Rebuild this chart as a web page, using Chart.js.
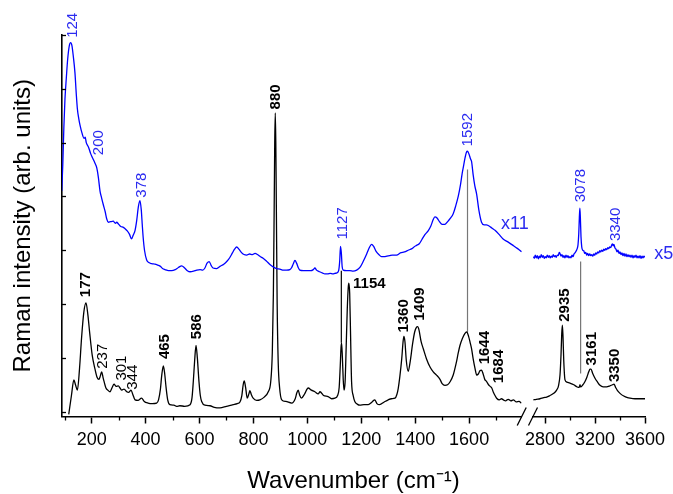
<!DOCTYPE html>
<html lang="en">
<head>
    <meta charset="UTF-8">
    <title>Raman spectrum</title>
    <script src="https://cdn.jsdelivr.net/npm/chart.js"></script>
    <style>
        body {
            margin: 0;
            background: #fff;
        }

        .chart-box {
            width: 673px;
            height: 494px;
        }
    </style>
</head>
<body>
<div class="chart-box">
    <canvas id="ramanChart"></canvas>
</div>
<script>
    // spectra: [wavenumber, intensity] (intensity in y tick units)
    const blackLow = [
        [115, -0.05], [125, 0.30], [134, 0.59], [140, 0.50], [147, 0.40], [155, 0.80], [163, 1.40], [171, 1.85],
        [179, 2.02], [186, 1.80], [193, 1.45], [202, 1.05], [212, 0.80], [220, 0.64], [227, 0.60], [232, 0.66],
        [237, 0.74], [243, 0.62], [253, 0.44], [260, 0.40], [268, 0.37], [276, 0.45], [283, 0.51], [291, 0.47],
        [299, 0.48], [305, 0.44], [312, 0.40], [320, 0.42], [330, 0.37], [338, 0.36], [346, 0.40], [352, 0.33],
        [361, 0.22], [372, 0.21], [385, 0.25], [395, 0.19], [409, 0.16], [425, 0.15], [441, 0.16], [448, 0.22],
        [455, 0.42], [460, 0.68], [466, 0.85], [471, 0.70], [476, 0.45], [482, 0.22], [490, 0.13], [505, 0.12],
        [515, 0.10], [527, 0.11], [545, 0.10], [565, 0.13], [572, 0.25], [577, 0.56], [582, 0.95], [587, 1.23],
        [592, 1.00], [598, 0.56], [603, 0.30], [608, 0.19], [620, 0.12], [639, 0.11], [655, 0.08], [676, 0.07],
        [700, 0.10], [725, 0.13], [740, 0.15], [750, 0.18], [757, 0.30], [762, 0.50], [766, 0.57], [771, 0.45],
        [777, 0.25], [783, 0.33], [787, 0.39], [792, 0.32], [799, 0.25], [812, 0.21], [824, 0.22], [840, 0.27],
        [855, 0.37], [864, 0.55], [870, 1.10], [874, 2.20], [877, 3.80], [879, 5.00], [881, 5.55], [883, 5.00],
        [885, 3.80], [888, 2.00], [892, 0.90], [897, 0.45], [905, 0.22], [920, 0.19], [942, 0.16], [955, 0.24],
        [961, 0.35], [966, 0.40], [972, 0.30], [978, 0.25], [990, 0.33], [1003, 0.44], [1015, 0.40], [1028, 0.37],
        [1040, 0.33], [1047, 0.37], [1060, 0.30], [1077, 0.28], [1090, 0.24], [1102, 0.25], [1112, 0.30], [1118, 0.45],
        [1122, 0.85], [1125, 1.20], [1127, 1.28], [1130, 1.00], [1133, 0.60], [1136, 0.40], [1140, 0.55], [1144, 1.20],
        [1148, 1.90], [1152, 2.33], [1154, 2.39], [1157, 2.20], [1160, 1.50], [1164, 0.56], [1170, 0.30], [1176, 0.19],
        [1185, 0.14], [1195, 0.12], [1210, 0.13], [1226, 0.13], [1240, 0.18], [1250, 0.22], [1258, 0.15], [1268, 0.13],
        [1285, 0.18], [1300, 0.22], [1312, 0.24], [1325, 0.25], [1332, 0.32], [1337, 0.43], [1343, 0.65], [1350, 0.98],
        [1355, 1.30], [1358, 1.40], [1362, 1.30], [1367, 0.95], [1374, 0.75], [1382, 0.95], [1390, 1.25], [1398, 1.48],
        [1405, 1.57], [1409, 1.58], [1414, 1.52], [1422, 1.30], [1430, 1.17], [1442, 0.98], [1455, 0.83], [1467, 0.74],
        [1479, 0.68], [1492, 0.60], [1500, 0.52], [1510, 0.49], [1520, 0.50], [1530, 0.56], [1541, 0.68], [1552, 0.90],
        [1560, 1.10], [1566, 1.23], [1575, 1.36], [1584, 1.45], [1591, 1.48], [1598, 1.40], [1604, 1.28], [1609, 1.17],
        [1615, 0.98], [1622, 0.80], [1628, 0.68], [1634, 0.70], [1640, 0.76], [1646, 0.77], [1652, 0.70], [1658, 0.60],
        [1665, 0.56], [1672, 0.50], [1678, 0.47], [1684, 0.44], [1690, 0.36], [1696, 0.30], [1702, 0.25], [1712, 0.22],
        [1720, 0.24], [1727, 0.22], [1735, 0.20], [1745, 0.23], [1755, 0.20], [1764, 0.22], [1775, 0.18], [1785, 0.19],
        [1794, 0.16]
    ];

    const blueLow = [
        [89, 4.10], [93, 4.60], [97, 5.30], [101, 5.81], [106, 6.20], [111, 6.55], [117, 6.80], [122, 6.86],
        [127, 6.80], [132, 6.60], [138, 6.30], [143, 5.90], [147, 5.63], [152, 5.45], [157, 5.32], [164, 5.18],
        [172, 5.08], [176, 5.10], [180, 5.00], [188, 4.92], [196, 4.80], [204, 4.71], [212, 4.62], [219, 4.53],
        [225, 4.35], [231, 4.10], [237, 3.97], [243, 3.85], [250, 3.72], [256, 3.58], [262, 3.52], [270, 3.53],
        [280, 3.54], [288, 3.50], [293, 3.52], [299, 3.49], [308, 3.44], [316, 3.43], [324, 3.40], [332, 3.36],
        [340, 3.30], [348, 3.21], [354, 3.28], [361, 3.37], [367, 3.55], [373, 3.80], [379, 3.92], [384, 3.75],
        [388, 3.45], [391, 3.24], [396, 3.00], [404, 2.82], [412, 2.77], [423, 2.75], [435, 2.74], [447, 2.72],
        [455, 2.70], [463, 2.66], [472, 2.64], [485, 2.62], [497, 2.62], [510, 2.64], [522, 2.68], [534, 2.71],
        [545, 2.67], [555, 2.62], [565, 2.60], [578, 2.61], [590, 2.63], [602, 2.64], [612, 2.63], [620, 2.67],
        [628, 2.76], [636, 2.79], [643, 2.72], [650, 2.67], [664, 2.66], [676, 2.70], [690, 2.74], [701, 2.79],
        [712, 2.86], [722, 2.95], [730, 3.02], [738, 3.06], [746, 3.02], [755, 2.96], [765, 2.92], [775, 2.91],
        [786, 2.93], [796, 2.92], [806, 2.94], [815, 2.92], [826, 2.88], [836, 2.85], [848, 2.80], [860, 2.74],
        [873, 2.69], [886, 2.66], [898, 2.65], [911, 2.63], [923, 2.63], [935, 2.64], [942, 2.68], [948, 2.75],
        [954, 2.81], [960, 2.76], [966, 2.68], [972, 2.63], [985, 2.62], [1000, 2.62], [1012, 2.62], [1022, 2.64],
        [1028, 2.67], [1034, 2.63], [1045, 2.60], [1055, 2.58], [1065, 2.56], [1075, 2.56], [1085, 2.57], [1095, 2.56],
        [1102, 2.57], [1110, 2.58], [1116, 2.62], [1120, 2.80], [1123, 3.07], [1126, 2.95], [1129, 2.70], [1133, 2.63],
        [1145, 2.62], [1158, 2.62], [1170, 2.61], [1183, 2.63], [1195, 2.68], [1207, 2.79], [1220, 2.93], [1230, 3.05],
        [1238, 3.11], [1246, 3.07], [1255, 2.98], [1265, 2.92], [1275, 2.88], [1285, 2.88], [1295, 2.89], [1305, 2.90],
        [1315, 2.91], [1331, 2.91], [1345, 2.95], [1360, 2.97], [1374, 3.00], [1388, 3.03], [1398, 3.07], [1405, 3.09],
        [1415, 3.12], [1425, 3.20], [1436, 3.29], [1448, 3.36], [1458, 3.45], [1466, 3.56], [1473, 3.62], [1481, 3.60],
        [1490, 3.53], [1500, 3.48], [1510, 3.48], [1520, 3.53], [1530, 3.59], [1541, 3.68], [1550, 3.82], [1560, 4.01],
        [1568, 4.22], [1574, 4.42], [1578, 4.53], [1585, 4.72], [1590, 4.82], [1594, 4.84], [1600, 4.78], [1605, 4.70],
        [1609, 4.65], [1615, 4.40], [1621, 4.20], [1628, 4.04], [1636, 3.75], [1646, 3.52], [1656, 3.47], [1664, 3.47],
        [1671, 3.46], [1680, 3.43], [1688, 3.40], [1696, 3.37], [1710, 3.30], [1726, 3.21], [1745, 3.15], [1763, 3.09],
        [1780, 3.03], [1795, 2.97]
    ];

    const blackHigh = [
        [2707, 0.22], [2730, 0.23], [2760, 0.24], [2790, 0.26], [2813, 0.27], [2840, 0.30], [2870, 0.34], [2893, 0.40],
        [2908, 0.48], [2920, 0.68], [2928, 1.05], [2934, 1.45], [2939, 1.61], [2944, 1.40], [2950, 0.95], [2960, 0.59],
        [2975, 0.55], [3000, 0.53], [3030, 0.50], [3050, 0.47], [3067, 0.45], [3075, 0.46], [3080, 0.50], [3085, 0.46],
        [3100, 0.49], [3120, 0.56], [3135, 0.64], [3150, 0.74], [3160, 0.79], [3168, 0.79], [3180, 0.72], [3200, 0.62],
        [3220, 0.55], [3240, 0.49], [3265, 0.46], [3293, 0.46], [3320, 0.48], [3340, 0.50], [3352, 0.51], [3365, 0.45],
        [3380, 0.39], [3400, 0.34], [3430, 0.29], [3460, 0.26], [3480, 0.25], [3520, 0.24], [3560, 0.24], [3600, 0.24]
    ];

    const blueHigh = [
        [2707, 2.88], [2715, 2.85], [2722, 2.91], [2730, 2.86], [2738, 2.90], [2746, 2.84], [2754, 2.89], [2762, 2.86],
        [2770, 2.92], [2778, 2.87], [2786, 2.90], [2794, 2.85], [2802, 2.88], [2810, 2.86], [2818, 2.91], [2826, 2.87],
        [2834, 2.90], [2842, 2.86], [2850, 2.89], [2858, 2.87], [2866, 2.92], [2874, 2.88], [2882, 2.90], [2890, 2.87],
        [2898, 2.91], [2906, 2.90], [2914, 2.96], [2920, 2.94], [2928, 2.89], [2936, 2.92], [2944, 2.87], [2952, 2.90],
        [2960, 2.86], [2968, 2.91], [2976, 2.87], [2984, 2.90], [2992, 2.86], [3000, 2.88], [3008, 2.86], [3016, 2.91],
        [3024, 2.88], [3032, 2.93], [3040, 2.95], [3048, 2.98], [3056, 3.02], [3064, 3.10], [3070, 3.30], [3075, 3.62],
        [3079, 3.78], [3083, 3.60], [3088, 3.25], [3094, 3.06], [3102, 3.00], [3110, 2.99], [3118, 2.94], [3126, 2.96],
        [3134, 2.91], [3142, 2.94], [3150, 2.90], [3158, 2.93], [3166, 2.90], [3174, 2.92], [3182, 2.89], [3190, 2.93],
        [3198, 2.91], [3206, 2.95], [3214, 2.93], [3222, 2.97], [3230, 2.95], [3238, 2.99], [3246, 2.97], [3254, 3.00],
        [3262, 2.98], [3270, 3.02], [3278, 3.00], [3286, 3.03], [3294, 3.01], [3302, 3.05], [3310, 3.03], [3318, 3.06],
        [3326, 3.05], [3334, 3.10], [3340, 3.12], [3346, 3.08], [3352, 3.11], [3360, 3.04], [3368, 3.02], [3376, 2.97],
        [3384, 3.00], [3392, 2.94], [3400, 2.97], [3408, 2.92], [3416, 2.95], [3424, 2.90], [3432, 2.94], [3440, 2.89],
        [3448, 2.93], [3456, 2.88], [3464, 2.92], [3472, 2.88], [3480, 2.91], [3488, 2.87], [3496, 2.91], [3504, 2.86],
        [3512, 2.90], [3520, 2.87], [3528, 2.91], [3536, 2.86], [3544, 2.89], [3552, 2.86], [3560, 2.90], [3568, 2.85],
        [3576, 2.89], [3584, 2.86], [3592, 2.89], [3600, 2.87]
    ];

    // vertical marker lines: [wavenumber, top, bottom, colour]
    const links = [
        [1126, 2.62, 1.28, '#000000'],
        [1594, 4.50, 1.47, '#777777'],
        [3085, 2.79, 0.71, '#777777']
    ];

    // peak labels: [text, wavenumber, intensity of text centre]
    const blueTags = [
        ['124', 129.7, 7.18], ['200', 227, 5.00], ['378', 385.5, 4.21], ['1127', 1131, 3.50],
        ['1592', 1594, 5.24], ['3078', 3086, 4.20], ['3340', 3366, 3.48]
    ];
    const blackTags = [
        ['880', 883.5, 5.85, true], ['177', 179, 2.36, true], ['237', 243, 1.03, false], ['301', 311, 0.81, false],
        ['344', 351, 0.64, false], ['465', 472, 1.21, true], ['586', 592, 1.58, true], ['1360', 1358, 1.78, true],
        ['1409', 1417, 2.00, true], ['1644', 1658, 1.19, true], ['1684', 1710, 0.84, true], ['2935', 2960, 1.98, true],
        ['3161', 3174, 1.17, true], ['3350', 3360, 0.86, true]
    ];
    const flatTag = ['1154', 1230, 2.38];
    const factorTags = [['x11', 1770, 3.49], ['x5', 3750, 2.93]];

    const lowTicks = [200, 400, 600, 800, 1000, 1200, 1400, 1600];
    const lowMinor = [100, 300, 500, 700, 900, 1100, 1300, 1500, 1700];
    const highTicks = [2800, 3200, 3600];
    const highMinor = [3000, 3400];
    const yTicks = [0, 1, 2, 3, 4, 5, 6, 7];

    const FONT = '"Liberation Sans", Arial, sans-serif';
    const BLUE = '#0000ff';
    const BLUE_TEXT = '#2b2bf0';
    Chart.defaults.font.family = FONT;
    Chart.defaults.color = '#000';

    function series(pts, axis, color) {
        return {
            data: pts.map(p => ({x: p[0], y: p[1]})),
            xAxisID: axis,
            borderColor: color,
            borderWidth: 1.3,
            pointRadius: 0,
            fill: false,
            cubicInterpolationMode: 'monotone'
        };
    }

    const datasets = [
        series(blueLow, 'x', BLUE),
        series(blueHigh, 'x2', BLUE),
        series(blackLow, 'x', '#000'),
        series(blackHigh, 'x2', '#000')
    ];
    links.forEach(l => {
        datasets.push({
            data: [{x: l[0], y: l[1]}, {x: l[0], y: l[2]}],
            xAxisID: l[0] > 2000 ? 'x2' : 'x',
            borderColor: l[3],
            borderWidth: 1.2,
            pointRadius: 0
        });
    });

    const hidden = {
        type: 'linear',
        position: 'bottom',
        ticks: {display: false},
        grid: {display: false, drawTicks: false},
        border: {display: false}
    };

    function wnAxis(min, max, ticks, weight, order) {
        return {
            type: 'linear',
            position: 'bottom',
            stack: 'wn',
            stackWeight: weight,
            weight: order,
            min: min,
            max: max,
            afterBuildTicks: s => { s.ticks = ticks.map(v => ({value: v})); },
            ticks: {
                autoSkip: false,
                maxRotation: 0,
                padding: 5.5,
                font: {size: 18},
                color: '#000',
                callback: v => String(v)
            },
            grid: {drawOnChartArea: false, tickLength: 7, tickWidth: 1.5, tickColor: '#000'},
            border: {color: '#000', width: 1.6}
        };
    }

    const decor = {
        id: 'decor',
        afterDatasetsDraw(chart) {
            const {ctx, scales} = chart;
            const x = scales.x, x2 = scales.x2, y = scales.y;
            const px = v => (v > 2000 ? x2 : x).getPixelForValue(v);
            ctx.save();
            ctx.strokeStyle = '#000';
            ctx.lineWidth = 1.3;
            // inward ticks on the intensity axis
            yTicks.forEach(v => {
                const py = Math.round(y.getPixelForValue(v)) + 0.5;
                ctx.beginPath();
                ctx.moveTo(y.right, py);
                ctx.lineTo(y.right + 4, py);
                ctx.stroke();
            });
            // minor ticks under the wavenumber axis
            const minor = (s, v) => {
                const p = Math.round(s.getPixelForValue(v)) + 0.5;
                ctx.beginPath();
                ctx.moveTo(p, s.top);
                ctx.lineTo(p, s.top + 4);
                ctx.stroke();
            };
            lowMinor.forEach(v => minor(x, v));
            highMinor.forEach(v => minor(x2, v));
            // axis break marks
            [x.right, x2.left].forEach(cx => {
                ctx.beginPath();
                ctx.moveTo(cx - 4.5, x.top + 9);
                ctx.lineTo(cx + 4.5, x.top - 9);
                ctx.stroke();
            });

            const text = (t, wn, val, color, weight, size, rotate) => {
                ctx.save();
                ctx.translate(px(wn), y.getPixelForValue(val));
                if (rotate) ctx.rotate(-Math.PI / 2);
                ctx.font = weight + ' ' + size + 'px ' + FONT;
                ctx.fillStyle = color;
                ctx.textAlign = 'center';
                ctx.textBaseline = 'middle';
                ctx.fillText(t, 0, 0);
                ctx.restore();
            };
            blueTags.forEach(t => text(t[0], t[1], t[2], BLUE_TEXT, 'normal', 15, true));
            blackTags.forEach(t => text(t[0], t[1], t[2], '#000', t[3] ? 'bold' : 'normal', 15, true));
            text(flatTag[0], flatTag[1], flatTag[2], '#000', 'bold', 15, false);
            factorTags.forEach(t => text(t[0], t[1], t[2], BLUE_TEXT, 'normal', 18, false));
            ctx.restore();
        }
    };

    new Chart(document.getElementById('ramanChart'), {
        type: 'line',
        data: {datasets: datasets},
        options: {
            responsive: true,
            maintainAspectRatio: false,
            animation: false,
            devicePixelRatio: 1,
            layout: {padding: {left: 0, right: 28, top: 35, bottom: 0.4}},
            plugins: {legend: {display: false}, tooltip: {enabled: false}},
            scales: {
                y: {
                    type: 'linear',
                    position: 'left',
                    min: -0.09,
                    max: 7,
                    afterBuildTicks: s => { s.ticks = yTicks.map(v => ({value: v})); },
                    ticks: {display: false},
                    grid: {drawOnChartArea: false, drawTicks: false},
                    border: {color: '#000', width: 1.6},
                    title: {
                        display: true,
                        text: 'Raman intensity (arb. units)',
                        font: {size: 24, lineHeight: 1},
                        padding: {top: 11.3, bottom: 26.7}
                    }
                },
                x: wnAxis(90, 1795, lowTicks, 459.7, 1),
                gap: Object.assign({}, hidden, {stack: 'wn', stackWeight: 11.3, weight: 2}),
                x2: wnAxis(2704, 3600, highTicks, 112, 3),
                xt: Object.assign({}, hidden, {
                    weight: 10,
                    title: {
                        display: true,
                        text: 'Wavenumber (cm\u207B\u00B9)',
                        font: {size: 24, lineHeight: 1},
                        padding: {top: 13.5, bottom: 0}
                    }
                })
            }
        },
        plugins: [decor]
    });
</script>
</body>
</html>
